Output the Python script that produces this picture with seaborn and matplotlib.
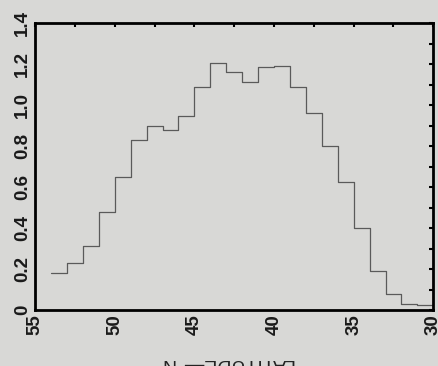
import numpy as np
import pandas as pd
import matplotlib
matplotlib.use("Agg")
import matplotlib.pyplot as plt
import seaborn as sns
from matplotlib.ticker import MultipleLocator, FuncFormatter

# bin upper edges (deg N, going south) and normalised counts
bin_start = [54, 53, 52, 51, 50, 49, 48, 47, 46, 45, 44, 43,
             42, 41, 40, 39, 38, 37, 36, 35, 34, 33, 32, 31]
frequency = [0.18, 0.23, 0.31, 0.48, 0.65, 0.83, 0.90, 0.88, 0.945, 1.09, 1.205, 1.16,
             1.11, 1.185, 1.19, 1.09, 0.96, 0.80, 0.625, 0.40, 0.19, 0.076, 0.03, 0.025]
x_ticks = [55, 50, 45, 40, 35, 30]
y_ticks = [0, 0.2, 0.4, 0.6, 0.8, 1.0, 1.2, 1.4]

# close the last bin at 30N
df = pd.DataFrame({'lat': bin_start + [30], 'freq': frequency + [frequency[-1]]})

sns.set_style("white")
plt.rcParams['font.family'] = ['Liberation Sans', 'DejaVu Sans']
bg = "#d8d8d6"
fig = plt.figure(figsize=(4.39, 3.66), dpi=100, facecolor=bg)
ax = fig.add_axes([0.08, 0.153, 0.907, 0.784], facecolor=bg)

sns.lineplot(data=df, x='lat', y='freq', sort=False, drawstyle='steps-post',
             color='#5a5a5a', linewidth=0.9, ax=ax)

ax.set_xlim(55, 30)
ax.set_ylim(0, 1.4)
ax.set_xticks(x_ticks)
ax.set_yticks(y_ticks)
ax.xaxis.set_minor_locator(MultipleLocator(2.5))
ax.yaxis.set_minor_locator(MultipleLocator(0.1))
ax.yaxis.set_major_formatter(FuncFormatter(lambda v, p: '0' if v == 0 else f'{v:.1f}'))
ax.tick_params(which='both', direction='in', top=True, right=True, length=3, width=1.5, colors='black')
ax.tick_params(axis='both', labelsize=13.5, pad=3, labelcolor='#1a1a1a')
for lbl in ax.get_yticklabels():
    lbl.set_rotation(90)
    lbl.set_va('center')
    lbl.set_fontweight('bold')
for lbl in ax.get_xticklabels():
    lbl.set_rotation(90)
    lbl.set_ha('center')
    lbl.set_fontweight('bold')
for s in ax.spines.values():
    s.set_linewidth(2)
    s.set_color('black')
ax.set_xlabel('')
ax.set_ylabel('')

fig.text(0.515, 0.008, 'LATITUDE\u2014\u00b0N', rotation=180, ha='center', va='center',
         fontsize=14, color='#222222')

fig.savefig('out.png', dpi=100, facecolor=bg)
